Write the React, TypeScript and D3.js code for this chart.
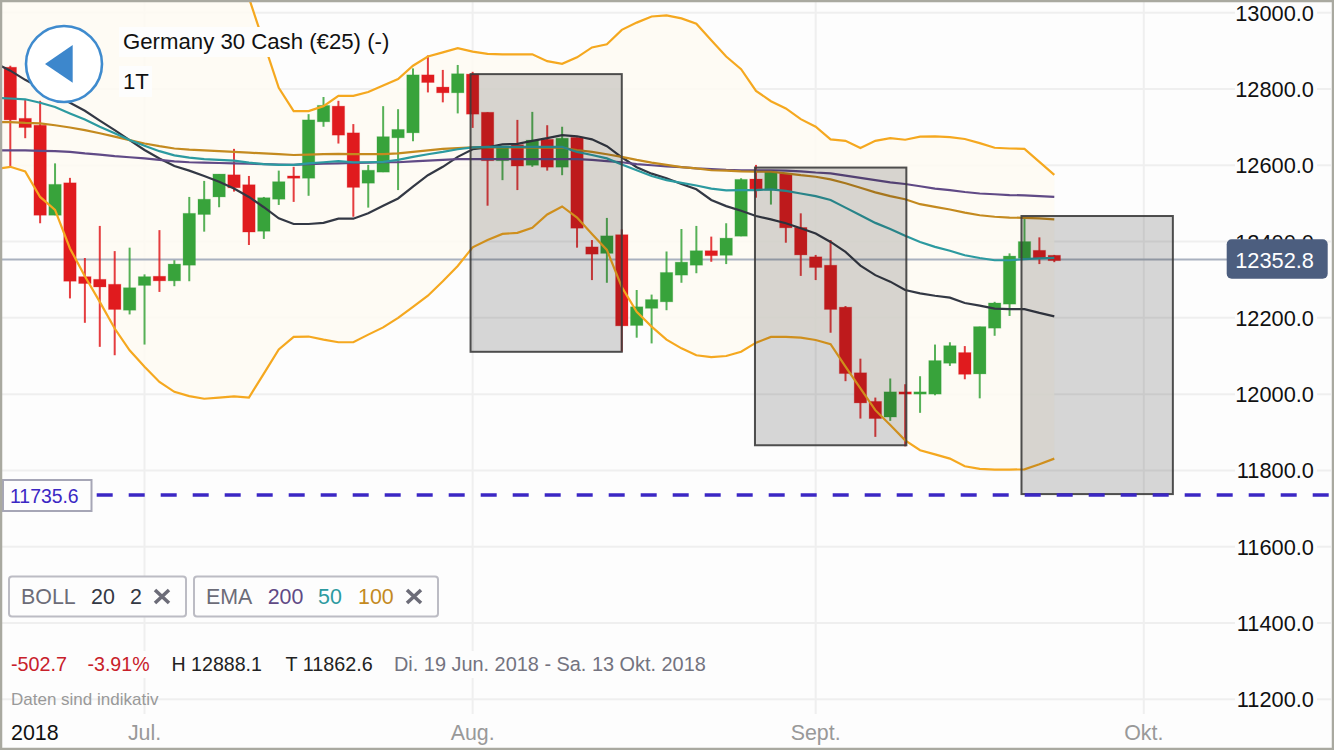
import React from 'react';
import * as d3 from 'd3';

// daily candles, Di. 19 Jun. 2018 onwards (trading days only)
const opens = [12857, 12723, 12705, 12469, 12554, 12308, 12301, 12288, 12220, 12285, 12309, 12297, 12338, 12471, 12517, 12575, 12549, 12427, 12511, 12572, 12566, 12714, 12755, 12685, 12553, 12582, 12672, 12685, 12837, 12805, 12790, 12839, 12739, 12612, 12654, 12600, 12668, 12595, 12673, 12386, 12369, 12418, 12180, 12225, 12242, 12312, 12338, 12376, 12364, 12414, 12564, 12535, 12579, 12437, 12360, 12338, 12228, 12056, 11981, 11940, 12006, 12000, 12000, 12081, 12109, 12053, 12173, 12236, 12356, 12377, 12364];
const closes = [12719, 12699, 12469, 12550, 12296, 12290, 12281, 12222, 12279, 12308, 12297, 12341, 12474, 12511, 12577, 12541, 12425, 12515, 12557, 12566, 12719, 12757, 12679, 12542, 12587, 12675, 12694, 12837, 12817, 12790, 12840, 12734, 12612, 12650, 12598, 12666, 12595, 12671, 12435, 12367, 12415, 12179, 12229, 12248, 12319, 12346, 12376, 12363, 12409, 12563, 12538, 12583, 12436, 12365, 12332, 12222, 12054, 11977, 11936, 12006, 12000, 12006, 12088, 12127, 12052, 12177, 12239, 12362, 12400, 12356, 12350];
const highs = [12861, 12771, 12769, 12605, 12567, 12357, 12441, 12375, 12384, 12314, 12430, 12351, 12517, 12559, 12577, 12643, 12572, 12517, 12586, 12596, 12734, 12779, 12769, 12708, 12601, 12755, 12747, 12854, 12888, 12850, 12863, 12845, 12739, 12650, 12719, 12740, 12705, 12701, 12673, 12404, 12462, 12432, 12273, 12261, 12374, 12433, 12441, 12413, 12448, 12566, 12601, 12583, 12579, 12474, 12365, 12404, 12231, 12093, 11991, 12041, 12026, 12047, 12130, 12136, 12126, 12177, 12242, 12369, 12463, 12411, 12365];
const lows = [12596, 12671, 12448, 12469, 12251, 12187, 12124, 12102, 12209, 12130, 12268, 12283, 12296, 12426, 12490, 12531, 12391, 12407, 12496, 12504, 12520, 12701, 12657, 12465, 12489, 12582, 12535, 12663, 12791, 12765, 12736, 12698, 12494, 12561, 12535, 12596, 12586, 12574, 12384, 12299, 12292, 12111, 12148, 12133, 12220, 12292, 12317, 12347, 12341, 12414, 12515, 12497, 12397, 12310, 12299, 12161, 12034, 11936, 11888, 11930, 11863, 11951, 11997, 12074, 12039, 11989, 12153, 12205, 12356, 12341, 12346];

// indicator series start one trading day before the first candle
const bollUpper = [13100, 13120, 13150, 13180, 13210, 13240, 13260, 13270, 13270, 13270, 13260, 13250, 13240, 13220, 13200, 13180, 13130, 13039, 12921, 12803, 12742, 12742, 12755, 12782, 12782, 12792, 12809, 12826, 12861, 12885, 12896, 12907, 12898, 12892, 12891, 12891, 12891, 12873, 12866, 12883, 12909, 12917, 12955, 12974, 12990, 12993, 12985, 12971, 12928, 12885, 12852, 12795, 12768, 12749, 12721, 12701, 12668, 12664, 12645, 12664, 12671, 12667, 12675, 12676, 12674, 12669, 12658, 12646, 12644, 12643, 12609, 12575];
const bollLower = [12590, 12596, 12584, 12517, 12483, 12382, 12309, 12242, 12172, 12115, 12072, 12032, 12006, 11995, 11988, 11991, 11994, 11991, 12054, 12117, 12150, 12151, 12143, 12136, 12136, 12156, 12175, 12200, 12229, 12258, 12296, 12336, 12385, 12404, 12420, 12423, 12436, 12471, 12492, 12463, 12420, 12378, 12281, 12216, 12177, 12143, 12120, 12102, 12097, 12100, 12111, 12135, 12150, 12150, 12148, 12142, 12131, 12072, 12015, 11958, 11919, 11879, 11853, 11842, 11831, 11811, 11804, 11802, 11802, 11803, 11816, 11831];
const bollMid = [12868, 12848, 12824, 12803, 12784, 12764, 12743, 12717, 12692, 12666, 12640, 12618, 12598, 12586, 12572, 12557, 12539, 12517, 12490, 12461, 12446, 12446, 12449, 12460, 12460, 12474, 12494, 12513, 12544, 12574, 12596, 12622, 12642, 12647, 12655, 12656, 12664, 12671, 12679, 12676, 12668, 12650, 12621, 12595, 12578, 12566, 12551, 12537, 12509, 12493, 12481, 12467, 12458, 12448, 12435, 12421, 12399, 12373, 12337, 12312, 12295, 12273, 12264, 12258, 12253, 12239, 12232, 12224, 12223, 12223, 12213, 12204];
const ema50 = [12777, 12775, 12773, 12764, 12753, 12736, 12720, 12701, 12684, 12666, 12651, 12637, 12626, 12620, 12616, 12614, 12612, 12607, 12603, 12601, 12601, 12605, 12608, 12611, 12608, 12608, 12609, 12614, 12622, 12629, 12635, 12642, 12647, 12648, 12648, 12648, 12648, 12648, 12648, 12635, 12627, 12618, 12602, 12587, 12572, 12561, 12554, 12547, 12539, 12534, 12535, 12535, 12537, 12533, 12526, 12519, 12509, 12489, 12469, 12449, 12433, 12415, 12399, 12386, 12376, 12364, 12357, 12351, 12351, 12354, 12356, 12357];
const ema100 = [12713, 12713, 12711, 12710, 12705, 12699, 12692, 12684, 12675, 12666, 12657, 12650, 12644, 12641, 12639, 12637, 12635, 12633, 12631, 12629, 12627, 12628, 12629, 12630, 12629, 12629, 12629, 12631, 12635, 12639, 12643, 12645, 12647, 12647, 12647, 12647, 12646, 12646, 12646, 12640, 12635, 12629, 12622, 12614, 12607, 12601, 12595, 12592, 12587, 12586, 12584, 12583, 12583, 12579, 12574, 12570, 12563, 12553, 12541, 12529, 12519, 12511, 12498, 12491, 12484, 12476, 12469, 12465, 12463, 12462, 12461, 12458];
const ema200 = [12639, 12639, 12639, 12638, 12637, 12635, 12631, 12628, 12624, 12621, 12618, 12614, 12610, 12608, 12607, 12606, 12605, 12604, 12603, 12602, 12601, 12603, 12604, 12605, 12606, 12607, 12608, 12608, 12610, 12612, 12614, 12616, 12616, 12616, 12616, 12616, 12616, 12616, 12616, 12616, 12614, 12611, 12608, 12603, 12600, 12597, 12595, 12592, 12590, 12588, 12587, 12587, 12587, 12586, 12584, 12581, 12579, 12573, 12567, 12561, 12555, 12551, 12545, 12539, 12535, 12530, 12526, 12524, 12522, 12521, 12519, 12517];

const priceTicks = [13000, 12800, 12600, 12400, 12200, 12000, 11800, 11600, 11400, 11200];
const monthLabels = ['Jul.', 'Aug.', 'Sept.', 'Okt.'];
const monthIndex = [9, 31, 54, 76];

// the three drawn boxes: start/end in trading days, top/bottom in price
const boxStart = [30.86, 49.93, 67.8];
const boxEnd = [41, 60.08, 77.95];
const boxTop = [12839, 12594, 12467];
const boxBottom = [12111, 11866, 11738];

const lastPrice = 12352.8;
const alertPrice = 11735.6;

const FONT = '"Liberation Sans", Arial, sans-serif';
const RED = '#e01b1e';
const GREEN = '#38a33b';

const x = d3.scaleLinear().domain([0, 70]).range([10.3, 1054.3]);
const y = d3.scaleLinear().domain([13000, 11200]).range([12.7, 699.3]);

const linePath = d3
  .line<number>()
  .x((_, i) => x(i - 1))
  .y((d) => y(d));

const bandPath = d3
  .area<number>()
  .x((_, i) => x(i - 1))
  .y0((d) => y(d))
  .y1((_, i) => y(bollUpper[i]));

const App = () => {
  return (
    <>
      <style>{'body{margin:0;background:#fdfdfd}'}</style>
      <svg width={1334} height={750} style={{ display: 'block' }} fontFamily={FONT}>
        <defs>
          <clipPath id="plot">
            <rect x={2} y={2} width={1328} height={746} />
          </clipPath>
        </defs>
        <rect width={1334} height={750} fill="#fdfdfd" />

        {/* grid */}
        {priceTicks.map((t) => (
          <line key={t} x1={2} x2={1331} y1={y(t)} y2={y(t)} stroke="#efefef" strokeWidth={2} />
        ))}
        {monthIndex.map((m) => (
          <line key={m} x1={x(m)} x2={x(m)} y1={2} y2={714} stroke="#efefef" strokeWidth={2} />
        ))}

        <g clipPath="url(#plot)">
          <path d={bandPath(bollLower) ?? ''} fill="#fefaf2" opacity={0.85} />
          <line x1={2} x2={1230} y1={y(lastPrice)} y2={y(lastPrice)} stroke="#a9b1bf" strokeWidth={2} />

          {/* candles */}
          {opens.map((o, i) => {
            const col = closes[i] < o ? RED : GREEN;
            const top = y(Math.max(o, closes[i]));
            const bottom = y(Math.min(o, closes[i]));
            return (
              <g key={i}>
                <line x1={x(i)} x2={x(i)} y1={y(highs[i])} y2={y(lows[i])} stroke={col} strokeWidth={2} strokeOpacity={0.85} />
                <rect x={x(i) - 6.2} y={top} width={12.4} height={Math.max(bottom - top, 2)} fill={col} stroke={col} strokeOpacity={0.25} strokeWidth={1} />
              </g>
            );
          })}

          <path d={linePath(bollMid) ?? ''} fill="none" stroke="#333844" strokeWidth={2.2} />
          <path d={linePath(ema200) ?? ''} fill="none" stroke="#604a86" strokeWidth={2.2} />
          <path d={linePath(ema100) ?? ''} fill="none" stroke="#c48a1f" strokeWidth={2.2} />
          <path d={linePath(ema50) ?? ''} fill="none" stroke="#2c9aa0" strokeWidth={2.2} />
          <path d={linePath(bollUpper) ?? ''} fill="none" stroke="#f5a81f" strokeWidth={2.2} />
          <path d={linePath(bollLower) ?? ''} fill="none" stroke="#f5a81f" strokeWidth={2.2} />

          {boxStart.map((s, i) => (
            <rect
              key={s}
              x={x(s)}
              y={y(boxTop[i])}
              width={x(boxEnd[i]) - x(s)}
              height={y(boxBottom[i]) - y(boxTop[i])}
              fill="rgb(25,25,25)"
              fillOpacity={0.17}
              stroke="#3c3c3c"
              strokeOpacity={0.9}
              strokeWidth={2}
            />
          ))}

          <line x1={96.7} x2={1330} y1={y(alertPrice)} y2={y(alertPrice)} stroke="#3b27c4" strokeWidth={3.5} strokeDasharray="16 16" />
        </g>

        {/* price axis */}
        {priceTicks.map((t) => (
          <g key={t}>
            <rect x={1235} y={y(t) - 11} width={82} height={22} fill="#fdfdfd" />
            <text x={1314} y={y(t) + 8} textAnchor="end" fontSize={21.8} fill="#111">
              {t.toFixed(1)}
            </text>
          </g>
        ))}
        <rect x={1226.7} y={239.3} width={101} height={39.4} rx={5} fill="#4c5e7f" />
        <text x={1314} y={y(lastPrice) + 8} textAnchor="end" fontSize={21.8} fill="#fff">
          {lastPrice.toFixed(1)}
        </text>

        {/* alert label */}
        <rect x={3} y={480} width={88.5} height={31} fill="#fdfdfd" stroke="#a6a6b6" strokeWidth={2} />
        <text x={10} y={503} fontSize={19.4} fill="#3b27c4">
          {alertPrice.toFixed(1)}
        </text>

        {/* back button and title */}
        <circle cx={64} cy={64} r={38} fill="#fff" stroke="#3f8bce" strokeWidth={2.6} />
        <path d={d3.line()([[45, 64], [72.7, 45], [72.7, 82.7]]) + 'Z'} fill="#3d87cc" />
        <rect x={119} y={27} width={276} height={30} fill="#fdfdfd" />
        <text x={123} y={49} fontSize={22.2} fill="#111">
          Germany 30 Cash (€25) (-)
        </text>
        <rect x={119} y={66} width={33} height={31} fill="#fdfdfd" />
        <text x={123} y={89} fontSize={22.2} fill="#111">
          1T
        </text>

        {/* indicator chips */}
        <rect x={9} y={576.5} width={177} height={40} rx={3} fill="#fdfdfd" stroke="#bcbcc4" strokeWidth={2} />
        <text x={21} y={604} fontSize={21.4} fill="#6c6c78">BOLL</text>
        <text x={91} y={604} fontSize={21.4} fill="#333844">20</text>
        <text x={130} y={604} fontSize={21.4} fill="#333844">2</text>
        <path d="M155 590L169 603M169 590L155 603" stroke="#6c6c78" strokeWidth={3.6} />
        <rect x={194} y={576.5} width={244} height={40} rx={3} fill="#fdfdfd" stroke="#bcbcc4" strokeWidth={2} />
        <text x={206} y={604} fontSize={21.4} fill="#6c6c78">EMA</text>
        <text x={267.7} y={604} fontSize={21.4} fill="#604a86">200</text>
        <text x={318} y={604} fontSize={21.4} fill="#2c9aa0">50</text>
        <text x={358} y={604} fontSize={21.4} fill="#c48a1f">100</text>
        <path d="M407 590L421 603M421 590L407 603" stroke="#6c6c78" strokeWidth={3.6} />

        {/* info row */}
        <rect x={8} y={651} width={702} height={27} fill="#fdfdfd" />
        <text x={11} y={671} fontSize={19.8} fill="#c8202a">-502.7</text>
        <text x={87.5} y={671} fontSize={19.6} fill="#c8202a">-3.91%</text>
        <text x={171.5} y={671} fontSize={19.6} fill="#222">H 12888.1</text>
        <text x={285.5} y={671} fontSize={19.8} fill="#222">T 11862.6</text>
        <text x={394} y={671} fontSize={19.9} fill="#73737f">Di. 19 Jun. 2018 - Sa. 13 Okt. 2018</text>
        <text x={11} y={705} fontSize={17} fill="#999">Daten sind indikativ</text>

        {/* time axis */}
        <rect x={2} y={715} width={1329} height={32} fill="#fdfdfd" />
        <text x={11} y={740} fontSize={21.4} fill="#111">2018</text>
        {monthLabels.map((m, i) => (
          <text key={m} x={x(monthIndex[i])} y={740} textAnchor="middle" fontSize={21.4} fill="#999">
            {m}
          </text>
        ))}

        <rect x={1} y={1} width={1332} height={748} fill="none" stroke="#a9a9a0" strokeWidth={2.5} />
      </svg>
    </>
  );
};

export default App;
